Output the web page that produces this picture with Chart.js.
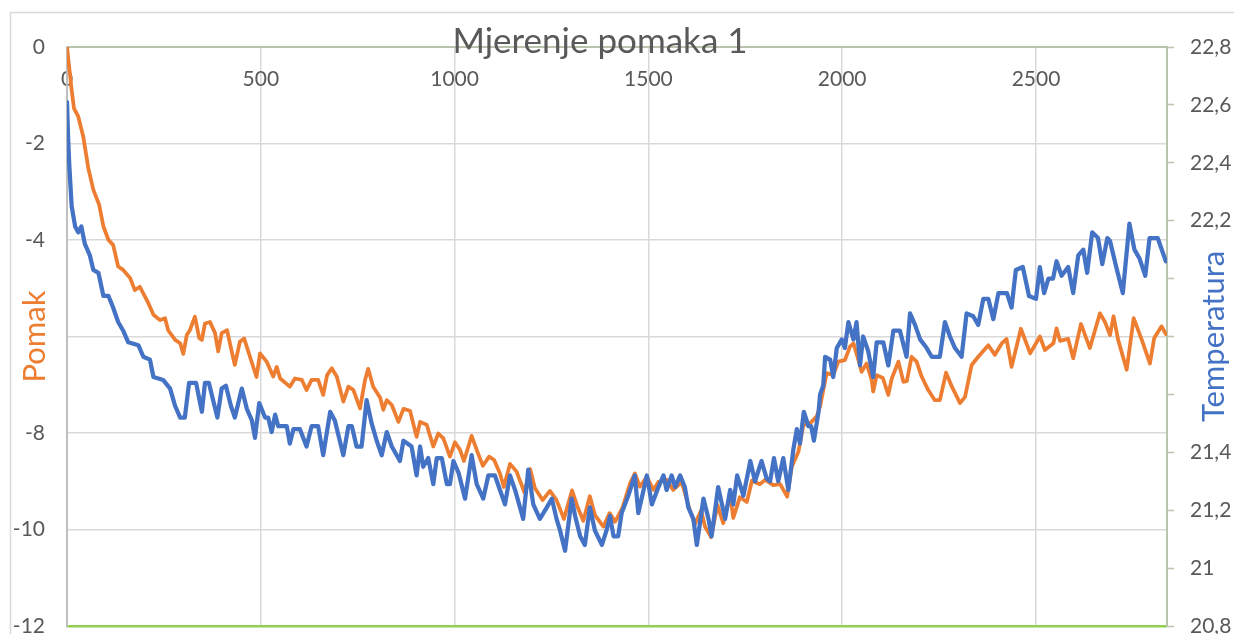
<!DOCTYPE html>
<html>
<head>
<meta charset="utf-8">
<script src="https://cdn.jsdelivr.net/npm/chart.js@4.4.1/dist/chart.umd.min.js"></script>
<style>
  html, body { margin: 0; padding: 0; background: #fff; }
  #wrap { width: 1234px; height: 634px; }
</style>
</head>
<body>
<div id="wrap"><canvas id="myChart" width="1234" height="634"></canvas></div>
<script>
// Pomak (left axis)
const pomakX = [
  0, 12, 18, 29, 42, 55, 68, 83, 94, 107,
  119, 132, 145, 163, 175, 188, 210, 223, 240, 253,
  261, 279, 292, 300, 309, 317, 330, 341, 348, 356,
  369, 382, 390, 399, 413, 425, 433, 446, 457, 472,
  489, 498, 515, 532, 541, 550, 575, 588, 606, 618,
  631, 648, 661, 671, 683, 696, 713, 726, 739, 756,
  769, 777, 790, 808, 816, 825, 838, 855, 868, 885,
  902, 911, 928, 945, 958, 971, 988, 1001, 1014, 1024,
  1044, 1058, 1073, 1089, 1102, 1117, 1127, 1143, 1160, 1180,
  1195, 1207, 1227, 1246, 1263, 1282, 1303, 1317, 1332, 1349,
  1362, 1384, 1400, 1414, 1433, 1453, 1465, 1478, 1496, 1513,
  1526, 1548, 1564, 1586, 1607, 1620, 1636, 1646, 1662, 1678,
  1693, 1711, 1719, 1736, 1754, 1767, 1788, 1801, 1822, 1840,
  1858, 1870, 1887, 1900, 1917, 1934, 1943, 1960, 1977, 1990,
  2007, 2020, 2029, 2042, 2050, 2063, 2076, 2080, 2089, 2105,
  2119, 2128, 2145, 2158, 2167, 2179, 2192, 2205, 2222, 2239,
  2252, 2268, 2283, 2304, 2317, 2334, 2351, 2377, 2394, 2412,
  2424, 2437, 2461, 2485, 2510, 2523, 2545, 2553, 2562, 2583,
  2596, 2616, 2639, 2665, 2678, 2691, 2700, 2712, 2734, 2752,
  2773, 2794, 2805, 2824, 2835
];
const pomakY = [
  0, -0.89, -1.27, -1.44, -1.86, -2.51, -2.96, -3.27, -3.72, -4.00,
  -4.10, -4.55, -4.62, -4.79, -5.04, -4.97, -5.31, -5.55, -5.66, -5.62,
  -5.87, -6.07, -6.14, -6.36, -5.97, -5.87, -5.59, -6.03, -6.07, -5.73,
  -5.70, -5.93, -6.31, -5.93, -5.87, -6.31, -6.59, -6.11, -6.04, -6.42,
  -6.84, -6.35, -6.52, -6.83, -6.63, -6.87, -7.04, -6.87, -6.90, -7.11,
  -6.90, -6.90, -7.21, -6.80, -6.66, -6.83, -7.35, -7.04, -7.11, -7.49,
  -6.90, -6.67, -7.04, -7.27, -7.52, -7.32, -7.42, -7.77, -7.50, -7.54,
  -8.08, -7.77, -7.83, -8.28, -8.01, -8.11, -8.49, -8.19, -8.35, -8.58,
  -8.06, -8.37, -8.68, -8.49, -8.56, -8.84, -9.12, -8.64, -8.80, -9.23,
  -8.75, -9.14, -9.39, -9.20, -9.39, -9.78, -9.19, -9.53, -9.82, -9.31,
  -9.70, -9.94, -9.66, -9.84, -9.55, -9.04, -8.84, -9.11, -8.91, -9.18,
  -9.01, -8.97, -9.18, -9.02, -9.60, -9.89, -9.60, -9.94, -10.16, -9.49,
  -9.87, -9.28, -9.76, -9.33, -9.43, -8.99, -9.06, -8.97, -9.08, -9.06,
  -9.32, -8.70, -8.39, -7.83, -7.80, -7.66, -7.45, -6.76, -6.80, -6.52,
  -6.49, -6.21, -6.14, -6.49, -6.73, -6.56, -6.90, -7.14, -6.80, -6.86,
  -7.21, -6.87, -6.52, -6.94, -6.92, -6.42, -6.52, -6.83, -7.11, -7.32,
  -7.32, -6.75, -7.04, -7.38, -7.25, -6.59, -6.42, -6.18, -6.38, -6.14,
  -6.05, -6.63, -5.84, -6.35, -6.00, -6.28, -6.14, -5.83, -6.09, -6.05,
  -6.45, -5.74, -6.24, -5.52, -5.70, -5.97, -5.58, -6.07, -6.69, -5.62,
  -6.07, -6.56, -6.03, -5.79, -5.95
];

// Temperatura (right axis)
const tempX = [
  0, 3, 6, 12, 21, 29, 37, 46, 59, 68,
  81, 94, 107, 119, 132, 145, 158, 184, 197, 214,
  223, 248, 266, 279, 292, 304, 315, 333, 348, 356,
  366, 377, 388, 399, 410, 423, 433, 442, 451, 464,
  477, 485, 496, 511, 519, 528, 537, 545, 567, 575,
  584, 601, 618, 631, 648, 661, 679, 691, 713, 726,
  735, 747, 760, 773, 786, 799, 812, 825, 838, 859,
  868, 889, 902, 911, 919, 932, 945, 954, 967, 980,
  988, 997, 1010, 1027, 1044, 1057, 1074, 1087, 1104, 1117,
  1130, 1143, 1156, 1177, 1190, 1203, 1220, 1238, 1251, 1263,
  1272, 1285, 1302, 1311, 1324, 1336, 1349, 1362, 1380, 1392,
  1401, 1410, 1422, 1431, 1448, 1465, 1474, 1496, 1509, 1526,
  1539, 1547, 1560, 1569, 1582, 1594, 1603, 1616, 1625, 1642,
  1655, 1663, 1680, 1698, 1711, 1719, 1729, 1745, 1763, 1775,
  1792, 1805, 1814, 1824, 1835, 1848, 1861, 1874, 1883, 1891,
  1901, 1913, 1920, 1927, 1939, 1943, 1951, 1956, 1969, 1977,
  1986, 1999, 2007, 2016, 2029, 2037, 2046, 2054, 2067, 2080,
  2089, 2106, 2119, 2132, 2149, 2166, 2175, 2188, 2201, 2218,
  2231, 2252, 2265, 2278, 2291, 2308, 2321, 2338, 2351, 2364,
  2377, 2390, 2403, 2425, 2437, 2448, 2466, 2482, 2500, 2510,
  2521, 2532, 2544, 2553, 2566, 2583, 2596, 2609, 2622, 2632,
  2645, 2660, 2671, 2684, 2691, 2707, 2724, 2741, 2754, 2767,
  2782, 2793, 2814, 2835
];
const tempY = [
  22.61, 22.48, 22.39, 22.25, 22.18, 22.16, 22.18, 22.12, 22.08, 22.03,
  22.02, 21.94, 21.94, 21.90, 21.85, 21.82, 21.78, 21.77, 21.73, 21.72,
  21.66, 21.65, 21.62, 21.56, 21.52, 21.52, 21.64, 21.64, 21.54, 21.64,
  21.64, 21.58, 21.52, 21.62, 21.63, 21.56, 21.52, 21.57, 21.62, 21.55,
  21.51, 21.45, 21.57, 21.52, 21.52, 21.47, 21.53, 21.49, 21.49, 21.43,
  21.48, 21.48, 21.42, 21.49, 21.49, 21.39, 21.54, 21.51, 21.39, 21.49,
  21.49, 21.42, 21.42, 21.58, 21.50, 21.44, 21.39, 21.47, 21.42, 21.37,
  21.44, 21.42, 21.32, 21.42, 21.35, 21.38, 21.29, 21.38, 21.38, 21.29,
  21.29, 21.37, 21.33, 21.24, 21.39, 21.29, 21.24, 21.32, 21.32, 21.27,
  21.22, 21.32, 21.27, 21.17, 21.34, 21.22, 21.17, 21.21, 21.24, 21.17,
  21.13, 21.06, 21.24, 21.18, 21.11, 21.08, 21.21, 21.13, 21.08, 21.13,
  21.18, 21.11, 21.11, 21.19, 21.25, 21.32, 21.19, 21.32, 21.22, 21.28,
  21.32, 21.27, 21.32, 21.28, 21.32, 21.28, 21.21, 21.17, 21.08, 21.24,
  21.17, 21.11, 21.28, 21.17, 21.27, 21.22, 21.32, 21.25, 21.37, 21.30,
  21.37, 21.31, 21.30, 21.38, 21.30, 21.38, 21.27, 21.41, 21.48, 21.43,
  21.54, 21.49, 21.49, 21.44, 21.54, 21.60, 21.63, 21.73, 21.72, 21.66,
  21.76, 21.79, 21.76, 21.85, 21.79, 21.85, 21.70, 21.80, 21.75, 21.66,
  21.78, 21.78, 21.70, 21.82, 21.82, 21.73, 21.88, 21.84, 21.79, 21.76,
  21.73, 21.73, 21.85, 21.80, 21.76, 21.73, 21.88, 21.87, 21.84, 21.93,
  21.93, 21.86, 21.95, 21.95, 21.90, 22.03, 22.04, 21.94, 21.93, 22.04,
  21.95, 22.00, 22.00, 22.06, 22.01, 22.04, 21.95, 22.08, 22.10, 22.02,
  22.16, 22.14, 22.05, 22.14, 22.13, 22.04, 21.95, 22.19, 22.10, 22.07,
  22.01, 22.14, 22.14, 22.06
];

// axis ticks
const xTicks = [0, 500, 1000, 1500, 2000, 2500];
// tick labels the axis titles cover in the original
const hiddenPomakLabels = [-6];
const hiddenTempLabels = [220, 218, 216];

const FONT = 'Lato, "Open Sans", sans-serif';
const GREY_TXT = '#595959';

// white background, outer frame, chart title, right axis title
const frame = {
  id: 'frame',
  beforeDraw(chart) {
    const ctx = chart.ctx;
    ctx.save();
    ctx.fillStyle = '#fff';
    ctx.fillRect(0, 0, chart.width, chart.height);
    ctx.strokeStyle = '#d9d9d9';
    ctx.lineWidth = 1.5;
    ctx.strokeRect(10.5, 12.5, 2000, 2000);
    ctx.restore();
  },
  afterDraw(chart) {
    const ctx = chart.ctx;
    const area = chart.chartArea;
    ctx.save();
    ctx.fillStyle = GREY_TXT;
    ctx.font = '35px ' + FONT;
    ctx.textAlign = 'center';
    ctx.textBaseline = 'alphabetic';
    ctx.fillText('Mjerenje pomaka 1', 600, 53);
    ctx.translate(1224, (area.top + area.bottom) / 2);
    ctx.rotate(-Math.PI / 2);
    ctx.fillStyle = '#4472C4';
    ctx.font = '31px ' + FONT;
    ctx.fillText('Temperatura', 0, 0);
    ctx.restore();
  }
};

const config = {
  type: 'scatter',
  data: {
    datasets: [{
      label: 'Pomak',
      data: pomakX.map((x, i) => ({x: x, y: pomakY[i]})),
      yAxisID: 'y',
      showLine: true,
      borderColor: '#ED7D31',
      borderWidth: 3.75,
      borderJoinStyle: 'round',
      borderCapStyle: 'round',
      pointRadius: 0,
      order: 2
    }, {
      label: 'Temperatura',
      data: tempX.map((x, i) => ({x: x, y: tempY[i]})),
      yAxisID: 'y2',
      showLine: true,
      borderColor: '#4472C4',
      borderWidth: 4.25,
      borderJoinStyle: 'round',
      borderCapStyle: 'round',
      pointRadius: 0,
      order: 1
    }]
  },
  options: {
    responsive: false,
    animation: false,
    layout: { padding: { left: 0, right: 0, top: 47, bottom: 8 } },
    scales: {
      x: {
        type: 'linear',
        position: 'top',
        min: 0,
        max: 2838,
        afterBuildTicks: s => { s.ticks = xTicks.map(v => ({value: v})); },
        afterFit: s => { s.height = 0; },
        ticks: {
          mirror: true, padding: 20, autoSkip: false, maxRotation: 0,
          color: GREY_TXT, font: { family: FONT, size: 21 },
          callback: v => String(v)
        },
        grid: {
          drawTicks: false,
          color: c => c.tick && c.tick.value === 0 ? 'rgba(0,0,0,0)' : '#d9d9d9',
          lineWidth: 1.5
        },
        border: { color: '#b9c3ae', width: 2 }
      },
      y: {
        position: 'left',
        min: -12,
        max: 0,
        afterFit: s => { s.width = 67; s.paddingTop = 0; s.paddingBottom = 0; },
        ticks: {
          stepSize: 2, padding: 22, color: GREY_TXT, font: { family: FONT, size: 21 },
          callback: v => hiddenPomakLabels.includes(v) ? '' : String(v)
        },
        grid: {
          drawTicks: false,
          color: c => {
            if (!c.tick) return '#d9d9d9';
            if (c.tick.value === -12) return '#92d050';
            if (c.tick.value === 0) return '#b9c3ae';
            return '#d9d9d9';
          },
          lineWidth: c => c.tick && c.tick.value === -12 ? 2.5 : 1.5
        },
        border: { color: '#bfbfbf', width: 2 },
        title: {
          display: true, text: 'Pomak', color: '#ED7D31',
          font: { family: FONT, size: 31 }, padding: { top: 16, bottom: 0 }
        }
      },
      y2: {
        position: 'right',
        min: 20.8,
        max: 22.8,
        afterFit: s => { s.width = 67; s.paddingTop = 0; s.paddingBottom = 0; },
        ticks: {
          stepSize: 0.2,
          padding: 16,
          color: GREY_TXT,
          font: { family: FONT, size: 21 },
          callback: v => {
            const r = Math.round(v * 10);
            if (hiddenTempLabels.includes(r)) return '';
            return String(r / 10).replace('.', ',');
          }
        },
        grid: { drawOnChartArea: false, drawTicks: true, tickLength: 7, tickColor: '#b9c3ae', tickWidth: 1.5 },
        border: { color: '#b9c3ae', width: 2 }
      }
    },
    plugins: {
      legend: { display: false },
      tooltip: { enabled: false },
      title: { display: false }
    }
  },
  plugins: [frame]
};

document.addEventListener('DOMContentLoaded', function () {
  new Chart(document.getElementById('myChart'), config);
});
</script>
</body>
</html>
